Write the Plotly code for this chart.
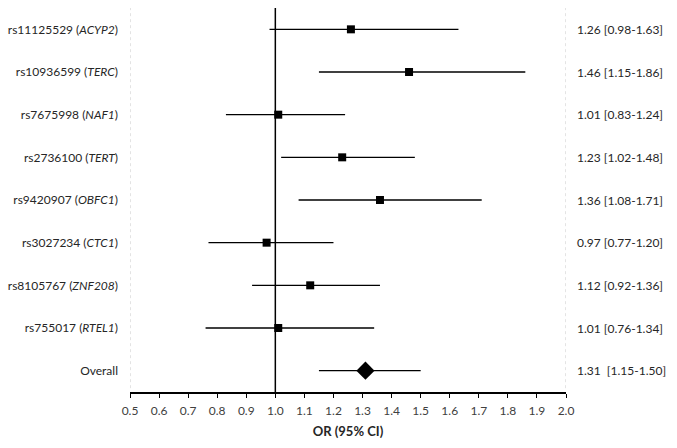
import plotly.graph_objects as go

snps = ["rs11125529", "rs10936599", "rs7675998", "rs2736100", "rs9420907",
        "rs3027234", "rs8105767", "rs755017", "Overall"]
genes = ["ACYP2", "TERC", "NAF1", "TERT", "OBFC1", "CTC1", "ZNF208", "RTEL1", ""]
or_vals = [1.26, 1.46, 1.01, 1.23, 1.36, 0.97, 1.12, 1.01, 1.31]
ci_low = [0.98, 1.15, 0.83, 1.02, 1.08, 0.77, 0.92, 0.76, 1.15]
ci_high = [1.63, 1.86, 1.24, 1.48, 1.71, 1.20, 1.36, 1.34, 1.50]
right_labels = ["1.26 [0.98-1.63]", "1.46 [1.15-1.86]", "1.01 [0.83-1.24]",
                "1.23 [1.02-1.48]", "1.36 [1.08-1.71]", "0.97 [0.77-1.20]",
                "1.12 [0.92-1.36]", "1.01 [0.76-1.34]", "1.31\u00a0 [1.15-1.50]"]
x_ticks = [0.5, 0.6, 0.7, 0.8, 0.9, 1.0, 1.1, 1.2, 1.3, 1.4, 1.5, 1.6, 1.7, 1.8, 1.9, 2.0]

FONT = "Lato"
TXT = "#262626"

n = len(snps)
ypos = list(range(n))
left_text = [f"{s} (<i>{g}</i>)" if g else s for s, g in zip(snps, genes)]

fig = go.Figure()

# individual SNPs (squares)
idx = list(range(n - 1))
fig.add_trace(go.Scatter(
    x=[or_vals[i] for i in idx], y=[ypos[i] for i in idx], mode="markers",
    marker=dict(symbol="square", size=8, color="black"),
    error_x=dict(type="data", symmetric=False,
                 array=[ci_high[i] - or_vals[i] for i in idx],
                 arrayminus=[or_vals[i] - ci_low[i] for i in idx],
                 width=0, thickness=1.4, color="black"),
    showlegend=False, hoverinfo="skip"))

# overall (diamond)
j = n - 1
fig.add_trace(go.Scatter(
    x=[or_vals[j]], y=[ypos[j]], mode="markers",
    marker=dict(symbol="diamond", size=14, color="black"),
    error_x=dict(type="data", symmetric=False,
                 array=[ci_high[j] - or_vals[j]],
                 arrayminus=[or_vals[j] - ci_low[j]],
                 width=0, thickness=1.4, color="black"),
    showlegend=False, hoverinfo="skip"))

# reference line at OR = 1
fig.add_shape(type="line", xref="x", yref="paper", x0=1.0, x1=1.0, y0=0, y1=1,
              line=dict(color="black", width=1.5), layer="below")
# dotted borders
for xv in (0.5, 2.0):
    fig.add_shape(type="line", xref="x", yref="paper", x0=xv, x1=xv, y0=0.01, y1=1,
                  line=dict(color="#c8c8c8", width=1, dash="dot"), layer="below")

for yi, lab in zip(ypos, right_labels):
    fig.add_annotation(x=1, xref="paper", y=yi, yref="y", text=lab, showarrow=False,
                       xanchor="left", xshift=9, font=dict(family=FONT, size=12, color=TXT))

fig.update_xaxes(range=[0.5, 2.0], tickvals=x_ticks,
                 ticktext=[f"{v:.1f}" for v in x_ticks],
                 showgrid=False, zeroline=False, showline=True, linecolor="black",
                 linewidth=1.5, ticks="outside", ticklen=4, tickcolor="black",
                 ticklabelstandoff=3,
                 tickfont=dict(family=FONT, size=12, color="#404040"),
                 automargin=False,
                 title=dict(text="<b>OR (95% CI)</b>", standoff=10,
                            font=dict(family=FONT, size=13, color=TXT)))
fig.update_yaxes(range=[n - 0.5, -0.5], tickvals=ypos, ticktext=left_text,
                 showgrid=False, zeroline=False, showline=False, ticks="",
                 ticklabelstandoff=11, automargin=False,
                 tickfont=dict(family=FONT, size=12, color=TXT))

fig.update_layout(width=677, height=448, margin=dict(l=130, r=111, t=8, b=56),
                  plot_bgcolor="white", paper_bgcolor="white")

fig.write_html("out.html", config={"displayModeBar": False},
               post_script="document.body.style.margin='0';")
